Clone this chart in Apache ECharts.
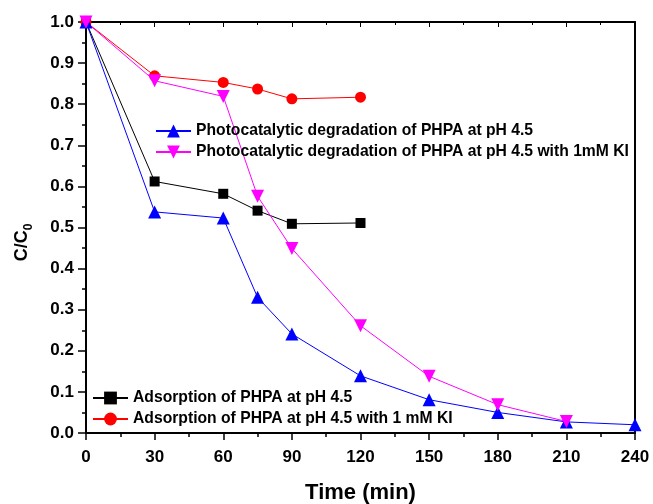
<!DOCTYPE html>
<html>
<head>
<meta charset="utf-8">
<script src="https://cdn.jsdelivr.net/npm/echarts@6/dist/echarts.min.js"></script>
<style>
  html, body { margin: 0; padding: 0; background: #fff; }
  #chart { width: 653px; height: 504px; }
</style>
</head>
<body>
<div id="chart"></div>
<script>
// Sampling times (min) and C/C0 ratios for each experiment
const timesAdsorption = [0, 30, 60, 75, 90, 120];
const timesPhoto = [0, 30, 60, 75, 90, 120, 150, 180, 210, 240];
const timesPhotoKI = [0, 30, 60, 75, 90, 120, 150, 180, 210];

const adsorption = [1.0, 0.612, 0.582, 0.541, 0.509, 0.511];
const adsorptionKI = [1.0, 0.869, 0.853, 0.837, 0.813, 0.817];
const photo = [1.0, 0.538, 0.523, 0.330, 0.241, 0.139, 0.081, 0.050, 0.027, 0.020];
const photoKI = [1.0, 0.857, 0.819, 0.576, 0.449, 0.261, 0.138, 0.069, 0.028];

const names = {
  adsorption: 'Adsorption of PHPA at pH 4.5',
  adsorptionKI: 'Adsorption of PHPA at pH 4.5 with 1 mM KI',
  photo: 'Photocatalytic degradation of PHPA at pH 4.5',
  photoKI: 'Photocatalytic degradation of PHPA at pH 4.5 with 1mM KI'
};

const xTicks = { min: 0, max: 240, interval: 30 };
const yTicks = { min: 0, max: 1.0, interval: 0.1 };

const FONT = '"Liberation Sans", Arial, sans-serif';

function pairs(xs, ys) { return xs.map((x, i) => [x, ys[i]]); }

function lineSeries(name, xs, ys, color, symbol, size, rotate) {
  return {
    name: name,
    type: 'line',
    data: pairs(xs, ys),
    symbol: symbol,
    symbolSize: size,
    symbolRotate: rotate || 0,
    showAllSymbol: true,
    lineStyle: { color: color, width: 1 },
    itemStyle: { color: color, borderWidth: 0 },
    emphasis: { disabled: true },
    animation: false
  };
}

const chart = echarts.init(document.getElementById('chart'), null, { renderer: 'canvas' });

const axisText = { color: '#000', fontFamily: FONT, fontWeight: 'bold', fontSize: 17 };
const legendText = { color: '#000', fontFamily: FONT, fontWeight: 'bold', fontSize: 15.7 };

chart.setOption({
  backgroundColor: '#fff',
  animation: false,
  textStyle: { fontFamily: FONT },
  grid: { left: 86, right: 18, top: 22, bottom: 71, containLabel: false, outerBoundsMode: 'none' },
  legend: [
    {
      data: [names.photo, names.photoKI],
      orient: 'vertical',
      left: 155, top: 123, padding: 0,
      itemWidth: 35, itemHeight: 16, itemGap: 5,
      textStyle: legendText,
      selectedMode: false
    },
    {
      data: [names.adsorption, names.adsorptionKI],
      orient: 'vertical',
      left: 92, top: 390, padding: 0,
      itemWidth: 35, itemHeight: 16, itemGap: 5,
      textStyle: legendText,
      selectedMode: false
    }
  ],
  xAxis: [
    {
      type: 'value', position: 'bottom',
      min: xTicks.min, max: xTicks.max, interval: xTicks.interval,
      name: 'Time (min)', nameLocation: 'middle', nameGap: 49,
      nameTextStyle: { color: '#000', fontFamily: FONT, fontWeight: 'bold', fontSize: 22 },
      axisLine: { onZero: false, lineStyle: { color: '#000', width: 2 } },
      axisTick: { inside: false, length: 7, lineStyle: { color: '#000', width: 1.5 } },
      minorTick: { show: true, splitNumber: 2, length: 4, lineStyle: { color: '#000', width: 1.5 } },
      axisLabel: Object.assign({ margin: 16 }, axisText),
      splitLine: { show: false }
    },
    {
      type: 'value', position: 'top',
      min: xTicks.min, max: xTicks.max, interval: xTicks.interval,
      axisLine: { onZero: false, lineStyle: { color: '#000', width: 2 } },
      axisTick: { inside: true, length: 5, lineStyle: { color: '#000', width: 1 } },
      minorTick: { show: true, splitNumber: 2, length: 3, lineStyle: { color: '#000', width: 1 } },
      axisLabel: { show: false },
      splitLine: { show: false }
    }
  ],
  yAxis: [
    {
      type: 'value', position: 'left',
      min: yTicks.min, max: yTicks.max, interval: yTicks.interval,
      name: '{a|C/C}{b|0}', nameLocation: 'middle', nameGap: 51, nameRotate: 90,
      nameTextStyle: {
        color: '#000', fontFamily: FONT, fontWeight: 'bold',
        padding: [0, 30, 0, 0],
        rich: {
          a: { fontSize: 18, fontWeight: 'bold', fontFamily: FONT, color: '#000', lineHeight: 26 },
          b: { fontSize: 12, fontWeight: 'bold', fontFamily: FONT, color: '#000', verticalAlign: 'bottom', lineHeight: 12 }
        }
      },
      axisLine: { onZero: false, lineStyle: { color: '#000', width: 2 } },
      axisTick: { inside: false, length: 8, lineStyle: { color: '#000', width: 1.5 } },
      minorTick: { show: true, splitNumber: 2, length: 4, lineStyle: { color: '#000', width: 1.5 } },
      axisLabel: Object.assign({ margin: 12, formatter: v => v.toFixed(1) }, axisText),
      splitLine: { show: false }
    },
    {
      type: 'value', position: 'right',
      min: yTicks.min, max: yTicks.max, interval: yTicks.interval,
      axisLine: { onZero: false, lineStyle: { color: '#000', width: 2 } },
      axisTick: { show: false },
      axisLabel: { show: false },
      splitLine: { show: false }
    }
  ],
  series: [
    lineSeries(names.adsorption, timesAdsorption, adsorption, '#000000', 'rect', 10),
    lineSeries(names.adsorptionKI, timesAdsorption, adsorptionKI, '#ff0000', 'circle', 11),
    lineSeries(names.photo, timesPhoto, photo, '#0000ff', 'triangle', 13),
    lineSeries(names.photoKI, timesPhotoKI, photoKI, '#ff00ff', 'triangle', 13, 180)
  ]
});
</script>
</body>
</html>
